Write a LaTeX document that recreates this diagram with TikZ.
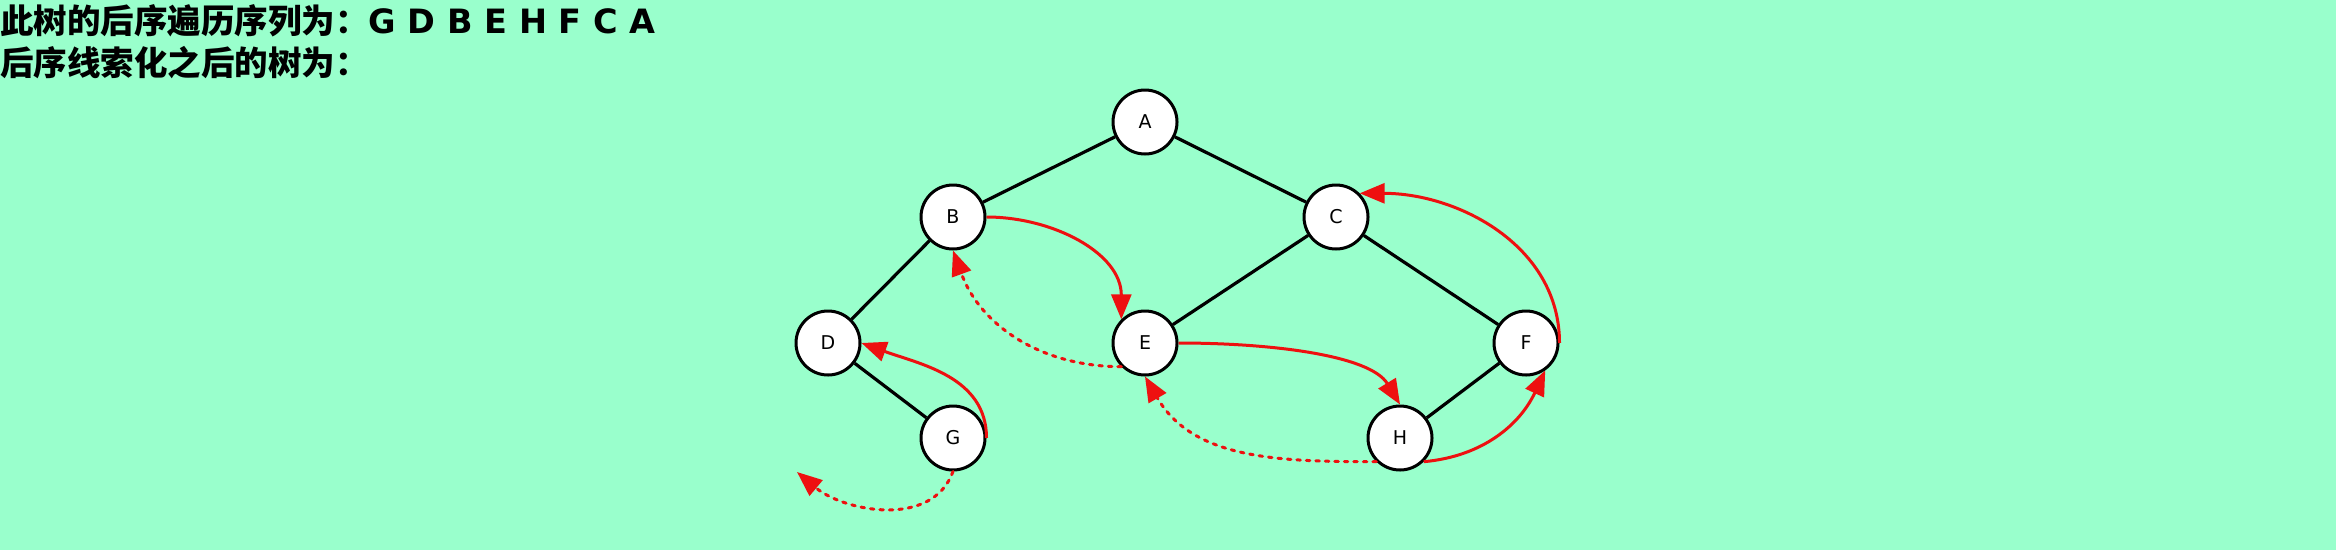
\documentclass[tikz,border=0pt]{standalone}
\usepackage{fontspec}
\setsansfont{DejaVu Sans}
\newfontfamily\cjkfont{Noto Sans CJK SC}
\usetikzlibrary{arrows.meta}
\definecolor{thbg}{RGB}{153,255,204}
\definecolor{thred}{RGB}{238,16,16}
\tikzset{
  thnode/.style={circle, draw, line width=3pt, fill=white, minimum size=64pt,
                 inner sep=0pt, font=\sffamily\fontsize{19}{19}\selectfont},
  thedge/.style={draw, line width=3.2pt},
  thsucc/.style={draw=thred, line width=3pt,
                 -{Triangle[length=25pt, width=20pt]}},
  thpred/.style={thsucc, line cap=round, dash pattern=on 3.5pt off 6pt},
  thtitle/.style={anchor=west, inner sep=0pt,
                  font=\cjkfont\bfseries\fontsize{33.5}{33.5}\selectfont}
}

\begin{document}
\begin{tikzpicture}[
    x=1pt, y=-1pt
]
  \fill[thbg] (0,0) rectangle (2336,550);
  \useasboundingbox (0,0) rectangle (2336,550);
  \node[thtitle] (seq) at (0,21)
    {此树的后序遍历序列为：{\sffamily\bfseries G D B E H F C A}};
  \node[thtitle] (cap) at (0,63) {后序线索化之后的树为：};
  \node[thnode] (A) at (1145,122) {A};
  \node[thnode] (B) at (953,217) {B};
  \node[thnode] (C) at (1336,217) {C};
  \node[thnode] (D) at (828,343) {D};
  \node[thnode] (E) at (1145,343) {E};
  \node[thnode] (F) at (1526,343) {F};
  \node[thnode] (G) at (953,438) {G};
  \node[thnode] (H) at (1400,438) {H};
  \coordinate (gnull) at (797,472);
  \foreach \u/\v in {A/B, A/C, B/D, D/G, C/E, C/F, F/H} {
    \draw[thedge] (\u) -- (\v);
  }
  % successor threads
  \draw[thsucc] (G.east) to[out=90, in=-20] (D.east);
  \draw[thsucc] (B.east) to[out=0, in=90] (E.135);
  \draw[thsucc] (E.east) .. controls (1270,343) and (1370,355) .. (H.north);
  \draw[thsucc] (H.-45) to[out=5, in=-115] (F.-55);
  \draw[thsucc] (F.east) to[out=90, in=0] (C.45);
  % predecessor threads
  \draw[thpred] (G.south) to[out=-110, in=-40] (gnull);
  \draw[thpred] (E.225) to[out=180, in=-70] (B.south);
  \draw[thpred] (H.225) to[out=180, in=-60] (E.south);
\end{tikzpicture}
\end{document}
